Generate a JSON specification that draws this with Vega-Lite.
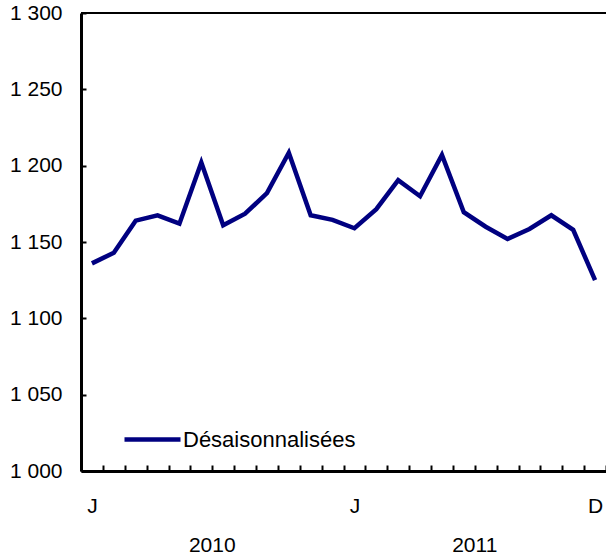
{
  "$schema": "https://vega.github.io/schema/vega-lite/v6.json",
  "width": 525,
  "height": 458,
  "autosize": {"type": "none"},
  "padding": {"left": 81, "top": 13, "right": 0, "bottom": 84},
  "background": "white",
  "config": {
    "view": {"stroke": null},
    "font": "Liberation Sans",
    "axis": {"labelFont": "Liberation Sans", "labelColor": "black", "labelFontSize": 21, "grid": false, "title": null}
  },
  "data": {
    "values": [
      {"month": "2010-01", "year": "2010", "value": 1136, "series": "Désaisonnalisées"},
      {"month": "2010-02", "year": "2010", "value": 1143, "series": "Désaisonnalisées"},
      {"month": "2010-03", "year": "2010", "value": 1164, "series": "Désaisonnalisées"},
      {"month": "2010-04", "year": "2010", "value": 1167.5, "series": "Désaisonnalisées"},
      {"month": "2010-05", "year": "2010", "value": 1162, "series": "Désaisonnalisées"},
      {"month": "2010-06", "year": "2010", "value": 1202, "series": "Désaisonnalisées"},
      {"month": "2010-07", "year": "2010", "value": 1161, "series": "Désaisonnalisées"},
      {"month": "2010-08", "year": "2010", "value": 1168.5, "series": "Désaisonnalisées"},
      {"month": "2010-09", "year": "2010", "value": 1182, "series": "Désaisonnalisées"},
      {"month": "2010-10", "year": "2010", "value": 1208.5, "series": "Désaisonnalisées"},
      {"month": "2010-11", "year": "2010", "value": 1167.5, "series": "Désaisonnalisées"},
      {"month": "2010-12", "year": "2010", "value": 1164.5, "series": "Désaisonnalisées"},
      {"month": "2011-01", "year": "2011", "value": 1159, "series": "Désaisonnalisées"},
      {"month": "2011-02", "year": "2011", "value": 1171.5, "series": "Désaisonnalisées"},
      {"month": "2011-03", "year": "2011", "value": 1190.5, "series": "Désaisonnalisées"},
      {"month": "2011-04", "year": "2011", "value": 1180, "series": "Désaisonnalisées"},
      {"month": "2011-05", "year": "2011", "value": 1207, "series": "Désaisonnalisées"},
      {"month": "2011-06", "year": "2011", "value": 1169.5, "series": "Désaisonnalisées"},
      {"month": "2011-07", "year": "2011", "value": 1160, "series": "Désaisonnalisées"},
      {"month": "2011-08", "year": "2011", "value": 1152, "series": "Désaisonnalisées"},
      {"month": "2011-09", "year": "2011", "value": 1158.5, "series": "Désaisonnalisées"},
      {"month": "2011-10", "year": "2011", "value": 1167.5, "series": "Désaisonnalisées"},
      {"month": "2011-11", "year": "2011", "value": 1158, "series": "Désaisonnalisées"},
      {"month": "2011-12", "year": "2011", "value": 1125, "series": "Désaisonnalisées"}
    ]
  },
  "layer": [
    {
      "mark": {"type": "point", "opacity": 0},
      "encoding": {
        "x": {
          "field": "year", "type": "ordinal",
          "scale": {"type": "band", "paddingInner": 0, "paddingOuter": 0},
          "axis": {"orient": "bottom", "ticks": false, "domain": false, "labelPadding": 63, "labelAngle": 0}
        },
        "y": {"field": "value", "type": "quantitative", "scale": {"domain": [1000, 1300], "nice": false, "zero": false}}
      }
    },
    {
      "mark": {"type": "rule", "color": "black", "strokeWidth": 2},
      "encoding": {"y": {"datum": 1300, "type": "quantitative"}}
    },
    {
      "mark": {"type": "line", "strokeWidth": 4.5, "strokeJoin": "miter", "strokeCap": "butt"},
      "encoding": {
        "x": {
          "field": "month", "type": "ordinal", "bandPosition": 0.5,
          "scale": {"type": "band", "paddingInner": 0, "paddingOuter": 0},
          "axis": {
            "orient": "bottom",
            "tickBand": "extent",
            "tickSize": -6,
            "tickWidth": 2,
            "tickColor": "black",
            "domainColor": "black",
            "domainWidth": 3,
            "labelAngle": 0,
            "labelPadding": 30,
            "labelExpr": "datum.value == '2010-01' || datum.value == '2011-01' ? 'J' : (datum.value == '2011-12' ? 'D' : '')"
          }
        },
        "y": {
          "field": "value", "type": "quantitative",
          "scale": {"domain": [1000, 1300], "nice": false, "zero": false},
          "axis": {
            "values": [1000, 1050, 1100, 1150, 1200, 1250, 1300],
            "tickSize": -5,
            "tickWidth": 2,
            "tickColor": "black",
            "domainColor": "black",
            "domainWidth": 3,
            "labelPadding": 24,
            "labelExpr": "replace(format(datum.value, ','), ',', ' ')"
          }
        },
        "color": {
          "field": "series", "type": "nominal",
          "scale": {"range": ["#000080"]},
          "legend": {
            "title": null,
            "orient": "none",
            "legendX": 41,
            "legendY": 396,
            "padding": 0,
            "symbolType": "stroke",
            "symbolSize": 3136,
            "symbolStrokeWidth": 4.5,
            "labelFont": "Liberation Sans",
            "labelFontSize": 22,
            "labelColor": "black",
            "labelOffset": 0,
            "labelLimit": 0
          }
        }
      }
    }
  ],
  "resolve": {"scale": {"x": "independent"}}
}
